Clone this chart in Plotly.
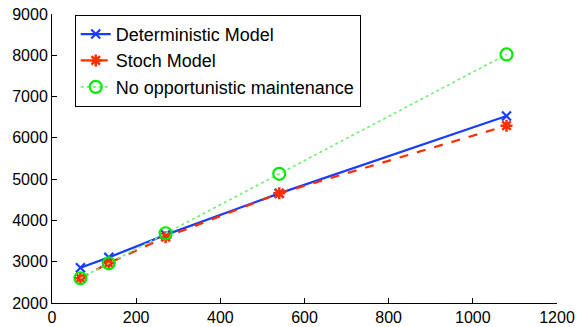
import plotly.graph_objects as go

x_vals = [67.5, 135, 270, 540, 1080]
det_vals = [2855, 3105, 3650, 4656, 6530]
stoch_vals = [2600, 2965, 3595, 4656, 6295]
noopp_vals = [2600, 2962, 3690, 5130, 8020]

x_ticks = [0, 200, 400, 600, 800, 1000, 1200]
y_ticks = [2000, 3000, 4000, 5000, 6000, 7000, 8000, 9000]

BLUE = "rgb(25,60,255)"
RED = "rgb(255,45,0)"
GREEN = "rgb(0,235,0)"
GREEN_LINE = "rgb(110,240,110)"

fig = go.Figure()
fig.add_trace(go.Scatter(
    x=x_vals, y=det_vals, name="Deterministic Model", mode="lines+markers",
    line=dict(color=BLUE, width=2.2),
    marker=dict(symbol="x-thin-open", size=9, line=dict(color=BLUE, width=2.2), color=BLUE),
))
fig.add_trace(go.Scatter(
    x=x_vals, y=stoch_vals, name="Stoch Model", mode="lines+markers",
    line=dict(color=RED, width=2.2, dash="dash"),
    marker=dict(symbol="asterisk-open", size=10, line=dict(color=RED, width=2.5), color=RED),
))
fig.add_trace(go.Scatter(
    x=x_vals, y=noopp_vals, name="No opportunistic maintenance", mode="lines+markers",
    line=dict(color=GREEN_LINE, width=1.6, dash="dot"),
    marker=dict(symbol="circle-open", size=12, line=dict(color=GREEN, width=2.2), color=GREEN),
))

axis_common = dict(
    showgrid=False, zeroline=False, showline=True, linecolor="black", linewidth=1,
    ticks="inside", ticklen=5, tickcolor="black", mirror=False, automargin=False,
    ticklabeloverflow="allow",
    tickfont=dict(family="Liberation Sans, Arial, sans-serif", size=16, color="black"),
)

fig.update_layout(
    width=579, height=327,
    margin=dict(l=52, r=22, t=14, b=24),
    paper_bgcolor="white", plot_bgcolor="white",
    showlegend=True,
    legend=dict(
        x=0.045, y=0.997, xanchor="left", yanchor="top",
        bgcolor="white", bordercolor="black", borderwidth=1,
        font=dict(family="Liberation Sans, Arial, sans-serif", size=18, color="black"),
        tracegroupgap=0, itemwidth=30,
    ),
    xaxis=dict(range=[0, 1200], tickvals=x_ticks, ticktext=[str(v) for v in x_ticks], **axis_common),
    yaxis=dict(range=[2000, 9000], tickvals=y_ticks, ticktext=[str(v) for v in y_ticks], **axis_common),
)

# remove the browser's default 8px body margin so the figure fills the window
fig.write_html("out.html", config={"displayModeBar": False},
               post_script="document.body.style.margin='0';")
